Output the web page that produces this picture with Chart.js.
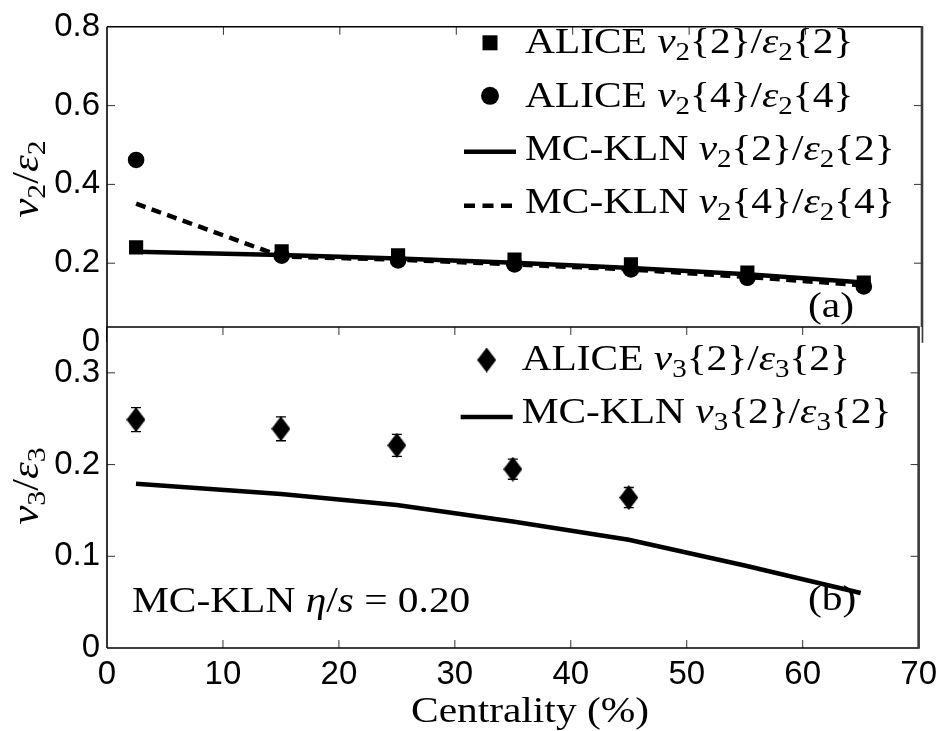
<!DOCTYPE html>
<html>
<head>
<meta charset="utf-8">
<script src="https://cdn.jsdelivr.net/npm/chart.js@4.4.1/dist/chart.umd.min.js"></script>
<style>
  html, body { margin: 0; padding: 0; background: #fff; }
  #wrap { position: relative; width: 944px; height: 731px; }
  #wrap canvas { position: absolute; left: 0; top: 0; }
</style>
</head>
<body>
<div id="wrap">
  <canvas id="panelA" width="944" height="731"></canvas>
  <canvas id="panelB" width="944" height="731"></canvas>
</div>
<script>
// Centrality bins (%) used by every series
const centrality = [2.5, 15, 25, 35, 45, 55, 65];

// Panel (a): v2 / eps2
const aliceV2c2 = [0.240, 0.230, 0.220, 0.209, 0.197, 0.176, 0.151];
const aliceV2c4 = [0.462, 0.219, 0.207, 0.197, 0.184, 0.163, 0.141];
const klnV2c2   = [0.229, 0.221, 0.212, 0.201, 0.188, 0.172, 0.151];
const klnV2c4   = [0.351, 0.217, 0.209, 0.197, 0.184, 0.165, 0.144];

// Panel (b): v3 / eps3
const aliceCentrality3 = [2.5, 15, 25, 35, 45];
const aliceV3c2    = [0.249, 0.239, 0.221, 0.195, 0.164];
const aliceV3c2Err = [0.013, 0.013, 0.012, 0.011, 0.011];
const klnV3c2      = [0.179, 0.168, 0.156, 0.138, 0.118, 0.090, 0.060];

// Axis ranges and ticks
const xRange = [0, 70], xStep = 10;
const yRangeA = [0, 0.8], yStepA = 0.2;
const yRangeB = [0, 0.35], yStepB = 0.1, yTopTickB = 0.3;

const SERIF = '"Liberation Serif", "Times New Roman", serif';
const SANS = '"Liberation Sans", Arial, Helvetica, sans-serif';
const STRETCH = 1.15;

const pts = (xs, ys) => xs.map((x, i) => ({ x, y: ys[i] }));

// Tiny TeX-like markup: '$' toggles math italics, '_c' makes c a subscript
function tex(s) {
  const runs = [];
  let math = false;
  for (let i = 0; i < s.length; i++) {
    const c = s[i];
    if (c === '$') { math = !math; continue; }
    if (c === '_') { runs.push({ t: s[++i], sub: true }); continue; }
    runs.push({ t: c, it: math && /[a-zA-Z\u03b1-\u03c9]/.test(c) });
  }
  return runs;
}

function drawRich(ctx, s, x, y, size, align) {
  const runs = tex(s);
  let w = 0;
  const items = runs.map(r => {
    const fs = r.sub ? size * 0.7 : size;
    const font = (r.it ? 'italic ' : '') + fs + 'px ' + SERIF;
    ctx.font = font;
    const m = ctx.measureText(r.t).width;
    w += m;
    return { t: r.t, font, m, dy: r.sub ? size * 0.2 : 0 };
  });
  ctx.save();
  ctx.translate(x, y);
  ctx.scale(STRETCH, 1);
  ctx.fillStyle = '#000';
  ctx.textBaseline = 'alphabetic';
  ctx.textAlign = 'left';
  let cx = align === 'right' ? -w : align === 'center' ? -w / 2 : 0;
  items.forEach(it => {
    ctx.font = it.font;
    ctx.fillText(it.t, cx, it.dy);
    cx += it.m;
  });
  ctx.restore();
}

function diamondImage(w, h) {
  const c = document.createElement('canvas');
  c.width = w; c.height = h;
  const g = c.getContext('2d');
  g.fillStyle = '#000';
  g.beginPath();
  g.moveTo(w / 2, 0); g.lineTo(w, h / 2); g.lineTo(w / 2, h); g.lineTo(0, h / 2);
  g.closePath();
  g.fill();
  return c;
}
const diamond = diamondImage(19, 25);

// Box around the plot area with inward tick marks on all four sides
const framePlugin = {
  id: 'frame',
  afterDatasetsDraw(chart) {
    const ctx = chart.ctx;
    const { left, right, top, bottom } = chart.chartArea;
    const xs = chart.scales.x, ys = chart.scales.y;
    const TL = 8;
    const seg = (x1, y1, x2, y2) => { ctx.beginPath(); ctx.moveTo(x1, y1); ctx.lineTo(x2, y2); ctx.stroke(); };
    ctx.save();
    ctx.strokeStyle = '#333';
    ctx.lineWidth = 1;
    xs.ticks.forEach(t => {
      const px = xs.getPixelForValue(t.value);
      if (px <= left + 1 || px >= right - 1) return;
      seg(px, top, px, top + TL);
      seg(px, bottom, px, bottom - TL);
    });
    ys.ticks.forEach(t => {
      const py = ys.getPixelForValue(t.value);
      if (py <= top + 1 || py >= bottom - 1) return;
      seg(left, py, left + TL, py);
      seg(right, py, right - TL, py);
    });
    ctx.strokeStyle = '#000';
    ctx.lineWidth = 1.6;
    seg(left, top, right, top);
    seg(left, top, left, bottom);
    seg(left, bottom, right, bottom);
    ctx.strokeStyle = '#3a3a3a';
    ctx.lineWidth = 2.6;
    seg(right, top - 0.8, right, bottom + 0.8);
    ctx.restore();
  }
};

// Legend and annotation text drawn on top of each panel
function textPlugin(id, spec) {
  return {
    id,
    afterDraw(chart) {
      const ctx = chart.ctx;
      const { left, right, top } = chart.chartArea;
      ctx.save();
      const mx = right - 432, tx = right - 397;
      spec.legend.forEach(e => {
        const cy = top + e.dy;
        ctx.fillStyle = '#000';
        ctx.strokeStyle = '#000';
        if (e.marker === 'rect') {
          ctx.fillRect(mx - 7.5, cy - 7.5, 15, 15);
        } else if (e.marker === 'circle') {
          ctx.beginPath(); ctx.arc(mx, cy, 9, 0, Math.PI * 2); ctx.fill();
        } else if (e.marker === 'diamond') {
          ctx.drawImage(diamond, mx - 9.5, cy - 12.5);
        } else {
          ctx.lineWidth = 4.5;
          ctx.setLineDash(e.marker === 'dash' ? [11, 7.5] : []);
          ctx.beginPath(); ctx.moveTo(mx - 26, cy); ctx.lineTo(mx + 26, cy); ctx.stroke();
          ctx.setLineDash([]);
        }
        drawRich(ctx, e.text, tx, cy + e.base, 36, 'left');
      });
      spec.notes.forEach(n => drawRich(ctx, n.text, left + n.x, top + n.y, 36, 'left'));
      if (spec.ytitle) {
        ctx.save();
        ctx.translate(spec.ytitle.x, spec.ytitle.y);
        ctx.rotate(-Math.PI / 2);
        drawRich(ctx, spec.ytitle.text, 0, 0, 37, 'center');
        ctx.restore();
      }
      if (spec.xtitle) drawRich(ctx, spec.xtitle.text, spec.xtitle.x, spec.xtitle.y, 36, 'center');
      ctx.restore();
    }
  };
}

// Error bars on the ALICE v3 points
const errorBarPlugin = {
  id: 'errorBars',
  beforeDatasetsDraw(chart) {
    const ctx = chart.ctx, xs = chart.scales.x, ys = chart.scales.y;
    ctx.save();
    ctx.strokeStyle = '#000';
    ctx.lineWidth = 1.3;
    aliceCentrality3.forEach((c, i) => {
      const px = xs.getPixelForValue(c);
      const y1 = ys.getPixelForValue(aliceV3c2[i] - aliceV3c2Err[i]);
      const y2 = ys.getPixelForValue(aliceV3c2[i] + aliceV3c2Err[i]);
      ctx.beginPath();
      ctx.moveTo(px, y1); ctx.lineTo(px, y2);
      ctx.moveTo(px - 5, y1); ctx.lineTo(px + 5, y1);
      ctx.moveTo(px - 5, y2); ctx.lineTo(px + 5, y2);
      ctx.stroke();
    });
    ctx.restore();
  }
};

// Lower panel paints its own plot area white so it sits over the upper one
const whiteAreaPlugin = {
  id: 'whiteArea',
  beforeDraw(chart) {
    const { left, right, top, bottom } = chart.chartArea;
    chart.ctx.save();
    chart.ctx.fillStyle = '#fff';
    chart.ctx.fillRect(left, top, right - left + 3, bottom - top);
    chart.ctx.restore();
  }
};

const fmt = v => String(Math.round(v * 100) / 100);

function yScale(range, step, extra) {
  return Object.assign({
    type: 'linear', min: range[0], max: range[1],
    grid: { display: false, drawTicks: false },
    border: { display: false },
    ticks: { stepSize: step, padding: 7, color: '#000', font: { family: SANS, size: 33 }, callback: fmt },
    afterFit(s) { s.width = 107; }
  }, extra || {});
}

function xScale(showLabels) {
  return {
    type: 'linear', min: xRange[0], max: xRange[1],
    grid: { display: false, drawTicks: false },
    border: { display: false },
    ticks: { display: showLabels, stepSize: xStep, padding: 7, maxRotation: 0, color: '#000', font: { family: SANS, size: 33 } },
    afterFit(s) { s.height = showLabels ? 60 : 0; }
  };
}

const base = {
  responsive: false,
  animation: false,
  devicePixelRatio: 1,
  events: [],
  plugins: { legend: { display: false }, tooltip: { enabled: false } }
};

new Chart(document.getElementById('panelA'), {
  type: 'scatter',
  data: {
    datasets: [
      { data: pts(centrality, aliceV2c2), pointStyle: 'rect', pointRadius: 10, pointBorderWidth: 0, backgroundColor: '#000', borderColor: '#000' },
      { data: pts(centrality, aliceV2c4), pointStyle: 'circle', pointRadius: 8.3, pointBorderWidth: 0, backgroundColor: '#000', borderColor: '#000' },
      { data: pts(centrality, klnV2c2), showLine: true, pointRadius: 0, borderColor: '#000', borderWidth: 4.5, tension: 0 },
      { data: pts(centrality, klnV2c4), showLine: true, pointRadius: 0, borderColor: '#000', borderWidth: 4.5, borderDash: [10, 6.5], tension: 0 }
    ]
  },
  options: Object.assign({}, base, {
    layout: { autoPadding: false, padding: { left: 0, top: 22, right: 22, bottom: 389 } },
    scales: { x: xScale(false), y: yScale(yRangeA, yStepA) }
  }),
  plugins: [framePlugin, textPlugin('textA', {
    legend: [
      { marker: 'rect', dy: 16, base: 10, text: 'ALICE $v_2${2}/$ε_2${2}' },
      { marker: 'circle', dy: 69, base: 11, text: 'ALICE $v_2${4}/$ε_2${4}' },
      { marker: 'solid', dy: 125, base: 8, text: 'MC-KLN $v_2${2}/$ε_2${2}' },
      { marker: 'dash', dy: 179, base: 7, text: 'MC-KLN $v_2${4}/$ε_2${4}' }
    ],
    notes: [{ text: '(a)', x: 701, y: 290 }],
    ytitle: { text: '$v_2$/$ε_2$', x: 38, y: 179 }
  })]
});

new Chart(document.getElementById('panelB'), {
  type: 'scatter',
  data: {
    datasets: [
      { data: pts(aliceCentrality3, aliceV3c2), pointStyle: diamond, pointRadius: 10, backgroundColor: '#000', borderColor: '#000' },
      { data: pts(centrality, klnV3c2), showLine: true, pointRadius: 0, borderColor: '#000', borderWidth: 4.5, tension: 0 }
    ]
  },
  options: Object.assign({}, base, {
    layout: { autoPadding: false, padding: { left: 0, top: 327, right: 22, bottom: 23 } },
    scales: {
      x: xScale(true),
      y: yScale(yRangeB, yStepB, {
        afterBuildTicks(s) { s.ticks = s.ticks.filter(t => t.value <= yTopTickB + 1e-9); }
      })
    }
  }),
  plugins: [whiteAreaPlugin, errorBarPlugin, framePlugin, textPlugin('textB', {
    legend: [
      { marker: 'diamond', dy: 33, base: 10, text: 'ALICE $v_3${2}/$ε_3${2}' },
      { marker: 'solid', dy: 90, base: 6, text: 'MC-KLN $v_3${2}/$ε_3${2}' }
    ],
    notes: [
      { text: '(b)', x: 701, y: 283 },
      { text: 'MC-KLN $η$/$s$ = 0.20', x: 25, y: 285 }
    ],
    ytitle: { text: '$v_3$/$ε_3$', x: 38, y: 486 },
    xtitle: { text: 'Centrality (%)', x: 530, y: 722 }
  })]
});
</script>
</body>
</html>
